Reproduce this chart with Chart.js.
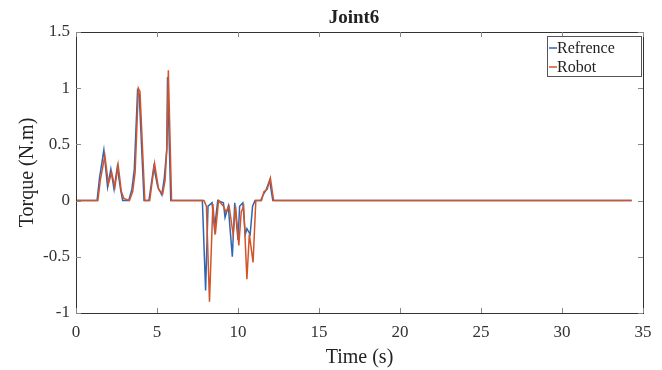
<!DOCTYPE html>
<html lang="en">
<head>
<meta charset="UTF-8">
<title>Joint6</title>
<script src="https://cdn.jsdelivr.net/npm/chart.js@4.4.0/dist/chart.umd.min.js"></script>
<style>
  html, body { margin: 0; padding: 0; background: #fff; }
</style>
</head>
<body>
<canvas id="joint" width="662" height="370"></canvas>
<script>
// time (s) and torque (N.m)
const refTime  = [0, 1.3, 1.45, 1.72, 1.95, 2.15, 2.35, 2.55, 2.75, 2.88,
                  3.25, 3.45, 3.6, 3.8, 3.9, 4.2, 4.5, 4.8, 5.05, 5.3,
                  5.45, 5.6, 5.65, 5.85, 7.8, 8.0, 8.15, 8.4, 8.55, 8.75,
                  9.1, 9.2, 9.4, 9.65, 9.8, 10.0, 10.1, 10.3, 10.45, 10.55,
                  10.75, 10.9, 11.05, 11.4, 11.55, 11.75, 11.95, 12.15, 34.3];
const refTorque = [0, 0, 0.2, 0.45, 0.12, 0.28, 0.1, 0.3, 0.1, 0,
                   0, 0.1, 0.28, 0.98, 0.95, 0, 0, 0.3, 0.12, 0.05,
                   0.2, 0.45, 1.1, 0, 0, -0.8, -0.05, -0.02, -0.25, 0,
                   -0.02, -0.15, -0.05, -0.5, -0.02, -0.35, -0.05, -0.02, -0.3, -0.25,
                   -0.3, -0.05, 0, 0, 0.05, 0.1, 0.18, 0, 0];

const robotTime  = [0, 1.35, 1.5, 1.78, 2.0, 2.2, 2.4, 2.6, 2.8, 2.95,
                    3.3, 3.5, 3.65, 3.85, 3.95, 4.25, 4.55, 4.85, 5.1, 5.35,
                    5.5, 5.62, 5.7, 5.9, 7.9, 8.05, 8.24, 8.45, 8.6, 8.8,
                    9.1, 9.25, 9.45, 9.7, 9.85, 10.05, 10.2, 10.35, 10.55, 10.7,
                    10.93, 11.1, 11.45, 11.6, 11.8, 12.0, 12.2, 34.3];
const robotTorque = [0, 0, 0.18, 0.4, 0.15, 0.25, 0.12, 0.32, 0.08, 0.02,
                     0, 0.08, 0.25, 1.0, 0.97, 0, 0, 0.33, 0.1, 0.06,
                     0.18, 0.5, 1.16, 0, 0, -0.05, -0.9, -0.03, -0.3, 0,
                     -0.05, -0.1, -0.05, -0.3, -0.05, -0.4, -0.1, -0.05, -0.7, -0.3,
                     -0.55, 0, 0, 0.08, 0.1, 0.2, 0, 0];

const seriesNames = ["Refrence", "Robot"];
const xTicks = [0, 5, 10, 15, 20, 25, 30, 35];
const yTicks = [-1, -0.5, 0, 0.5, 1, 1.5];

const blue = "#2f66b3";
const red = "#d4542a";
const serif = "'Liberation Serif', 'DejaVu Serif', serif";

function pairs(xs, ys) {
    return xs.map((x, i) => ({ x: x, y: ys[i] }));
}

// matlab style box, inward ticks, title and legend
const matlabFrame = {
    id: "matlabFrame",
    afterDraw(chart) {
        const c = chart.ctx, a = chart.chartArea;
        const xs = chart.scales.x, ys = chart.scales.y;
        c.save();
        c.strokeStyle = "#333";
        c.lineWidth = 1;
        c.strokeRect(a.left + 0.5, a.top + 0.5, a.right - a.left, a.bottom - a.top);
        c.strokeStyle = "#888";
        c.beginPath();
        xTicks.forEach(v => {
            const p = Math.round(xs.getPixelForValue(v)) + 0.5;
            c.moveTo(p, a.bottom); c.lineTo(p, a.bottom - 5);
            c.moveTo(p, a.top); c.lineTo(p, a.top + 5);
        });
        yTicks.forEach(v => {
            const p = Math.round(ys.getPixelForValue(v)) + 0.5;
            c.moveTo(a.left, p); c.lineTo(a.left + 5, p);
            c.moveTo(a.right, p); c.lineTo(a.right - 5, p);
        });
        c.stroke();

        c.fillStyle = "#222";
        c.font = "bold 19px " + serif;
        c.textAlign = "center";
        c.textBaseline = "middle";
        c.fillText("Joint6", 354, 18);

        // legend
        const lx = 547, ly = 36, lw = 94, lh = 40;
        c.fillStyle = "#fff";
        c.fillRect(lx, ly, lw, lh);
        c.strokeStyle = "#555";
        c.strokeRect(lx + 0.5, ly + 0.5, lw, lh);
        const colors = [blue, red];
        seriesNames.forEach((n, i) => {
            const y = ly + 12 + i * 19;
            c.strokeStyle = colors[i];
            c.lineWidth = 1.5;
            c.beginPath(); c.moveTo(lx + 2, y); c.lineTo(lx + 10, y); c.stroke();
            c.fillStyle = "#222";
            c.font = "16px " + serif;
            c.textAlign = "left";
            c.fillText(n, lx + 10, y + 1);
        });
        c.restore();
    }
};

new Chart(document.getElementById("joint"), {
    type: "line",
    data: {
        datasets: [
            { label: seriesNames[0], data: pairs(refTime, refTorque), borderColor: blue, order: 1 },
            { label: seriesNames[1], data: pairs(robotTime, robotTorque), borderColor: red, order: 0 }
        ]
    },
    options: {
        responsive: false,
        animation: false,
        layout: { padding: { top: 32, right: 19, left: 0, bottom: 0 } },
        elements: {
            point: { radius: 0 },
            line: { borderWidth: 1.5, tension: 0 }
        },
        plugins: {
            legend: { display: false },
            title: { display: false },
            tooltip: { enabled: false }
        },
        scales: {
            x: {
                type: "linear",
                min: 0, max: 35,
                afterBuildTicks: s => { s.ticks = xTicks.map(v => ({ value: v })); },
                afterFit: s => { s.height = 57; },
                grid: { display: false, drawTicks: false },
                border: { display: false },
                ticks: { padding: 9, color: "#333", font: { family: serif, size: 17 }, maxRotation: 0 },
                title: { display: true, text: "Time (s)", color: "#222",
                         font: { family: serif, size: 20 }, padding: { top: 1, bottom: 0 } }
            },
            y: {
                min: -1, max: 1.5,
                afterBuildTicks: s => { s.ticks = yTicks.map(v => ({ value: v })); },
                afterFit: s => { s.width = 76; },
                grid: { display: false, drawTicks: false },
                border: { display: false },
                ticks: { padding: 6, color: "#333", font: { family: serif, size: 17 },
                         callback: v => String(v) },
                title: { display: true, text: "Torque (N.m)", color: "#222",
                         font: { family: serif, size: 20 }, padding: { top: 16, bottom: 0 } }
            }
        }
    },
    plugins: [matlabFrame]
});
</script>
</body>
</html>
